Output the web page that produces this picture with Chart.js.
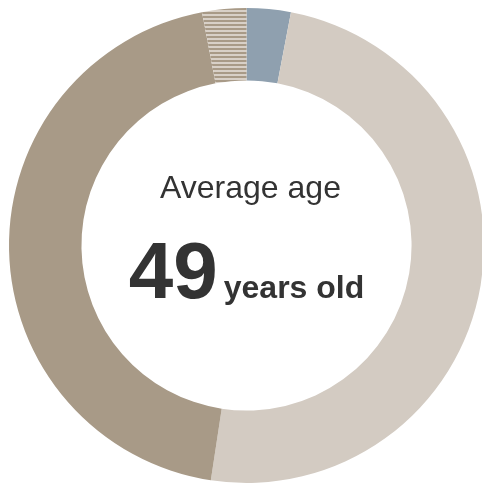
<!DOCTYPE html>
<html lang="en">
<head>
  <meta charset="UTF-8">
  <title>Average age</title>
  <script src="https://cdn.jsdelivr.net/npm/chart.js"></script>
  <style>
    html, body {
      margin: 0;
      padding: 0;
      background: #fff;
      overflow: hidden;
    }
    #ageChart {
      display: block;
    }
  </style>
</head>
<body>
<canvas id="ageChart" width="484" height="484"></canvas>

<script>
  // share of respondents, clockwise from 12 o'clock
  const groups = ['Other', 'Women', 'Men', 'Not stated'];
  const shares = [3.0, 49.4, 44.6, 3.0];
  const colors = ['#8fa0af', '#d3cbc2', '#a89a87', null];

  const avgLabel = 'Average age';
  const avgValue = '49';
  const avgUnit = 'years old';

  // horizontal stripes for the "not stated" slice
  function stripes() {
    const c = document.createElement('canvas');
    c.width = 4;
    c.height = 4;
    const g = c.getContext('2d');
    g.fillStyle = '#d8d0c7';
    g.fillRect(0, 0, 4, 4);
    g.fillStyle = '#a89a87';
    g.fillRect(0, 0, 4, 2);
    return g.createPattern(c, 'repeat');
  }

  const centerText = {
    id: 'centerText',
    afterDraw(chart) {
      const ctx = chart.ctx;
      const meta = chart.getDatasetMeta(0).data[0];
      const cx = meta.x;
      const cy = meta.y;
      ctx.save();
      ctx.fillStyle = '#333';
      ctx.textBaseline = 'alphabetic';
      ctx.textAlign = 'center';
      ctx.font = '32px "Liberation Sans", Arial, sans-serif';
      ctx.fillText(avgLabel, cx + 4, cy - 48);

      // big number + unit share one baseline, centred as a pair
      const bigFont = 'bold 80px "Liberation Sans", Arial, sans-serif';
      const smallFont = 'bold 32px "Liberation Sans", Arial, sans-serif';
      ctx.font = bigFont;
      const w1 = ctx.measureText(avgValue).width;
      ctx.font = smallFont;
      const w2 = ctx.measureText(avgUnit).width;
      const gap = 6;
      const left = cx - (w1 + gap + w2) / 2;
      ctx.textAlign = 'left';
      ctx.font = bigFont;
      ctx.fillText(avgValue, left, cy + 52);
      ctx.font = smallFont;
      ctx.fillText(avgUnit, left + w1 + gap, cy + 52);
      ctx.restore();
    }
  };

  window.onload = () => {
    const bg = colors.map(c => c || stripes());
    new Chart(document.getElementById('ageChart'), {
      type: 'doughnut',
      data: {
        labels: groups,
        datasets: [{
          data: shares,
          backgroundColor: bg,
          hoverBackgroundColor: bg,
          borderWidth: 0
        }]
      },
      options: {
        responsive: false,
        animation: false,
        cutout: '69.5%',
        layout: { padding: { left: 9, top: 8, right: 0, bottom: 1 } },
        plugins: {
          legend: { display: false },
          tooltip: { enabled: false }
        }
      },
      plugins: [centerText]
    });
  };
</script>
</body>
</html>
